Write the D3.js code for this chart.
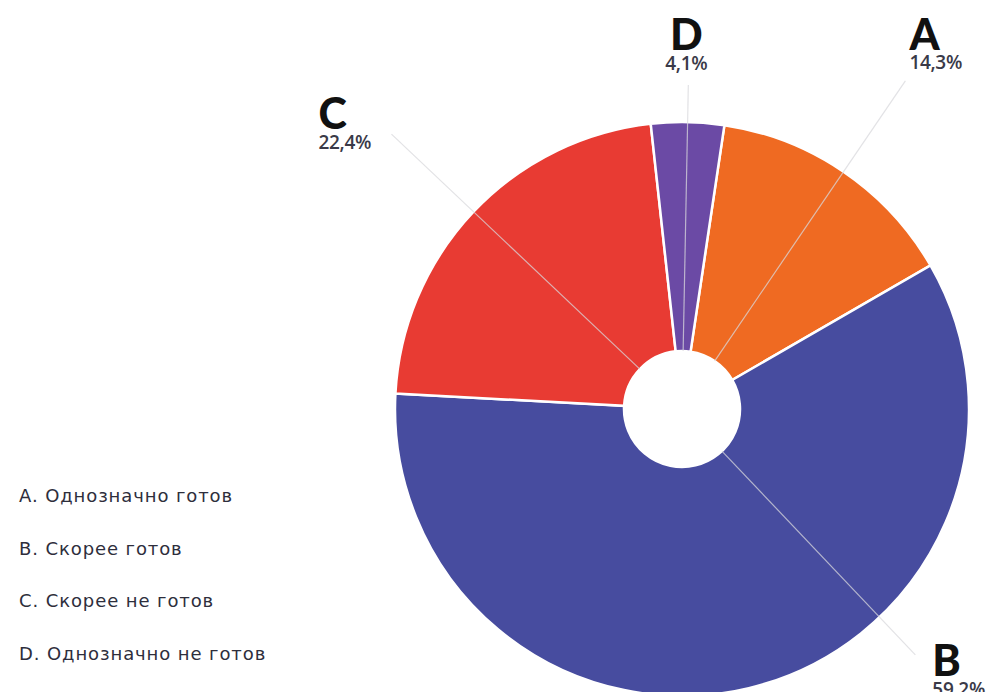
<!DOCTYPE html>
<meta charset="utf-8">
<script src="https://d3js.org/d3.v7.min.js"></script>
<style>
  body { margin: 0; background: #fff; }
</style>
<div id="chart"></div>
<script>
    // data
    const categories = ["A", "B", "C", "D"];
    const values = [14.3, 59.2, 22.4, 4.1];
    const valueLabels = ["14,3%", "59,2%", "22,4%", "4,1%"];
    const legendLabels = ["A. Однозначно готов", "B. Скорее готов", "C. Скорее не готов", "D. Однозначно не готов"];

    const width = 997, height = 692;
    const cx = 682, cy = 409;
    const outerR = 287, innerR = 58;

    const color = d3.scaleOrdinal()
        .domain(categories)
        .range(["#ef6a22", "#474c9f", "#e83b33", "#6b4aa5"]);

    const svg = d3.select("#chart")
        .append("svg")
        .attr("width", width)
        .attr("height", height);

    const g = svg.append("g")
        .attr("transform", `translate(${cx}, ${cy})`);

    const start = 8.5 * Math.PI / 180;
    const pie = d3.pie()
        .sort(null)
        .value(d => d.value)
        .startAngle(start)
        .endAngle(start + 2 * Math.PI);

    const data = categories.map((c, i) => ({ cat: c, value: values[i], label: valueLabels[i] }));
    const arcs = pie(data);

    const arc = d3.arc().innerRadius(innerR).outerRadius(outerR);

    g.selectAll("path.slice")
        .data(arcs)
        .join("path")
        .attr("class", "slice")
        .attr("d", arc)
        .attr("fill", d => color(d.data.cat))
        .attr("stroke", "#fff")
        .attr("stroke-width", 2.5);

    // label layout: radius of the line end, optional angle override (degrees), text offsets
    const labelLayout = {
        A: { r: 397, dx: 4, dy1: -31, dy2: -12, anchor: "start" },
        B: { r: 339, angle: 136.5, dx: 17, dy1: 21, dy2: 41, anchor: "start" },
        C: { r: 400, dx: -73, dy1: -5, dy2: 15, anchor: "start" },
        D: { r: 324, dx: -2, dy1: -35, dy2: -15, anchor: "middle" }
    };

    function endPoint(d) {
        const L = labelLayout[d.data.cat];
        const a = L.angle !== undefined ? L.angle * Math.PI / 180 : (d.startAngle + d.endAngle) / 2;
        return [Math.sin(a) * L.r, -Math.cos(a) * L.r, a];
    }

    g.selectAll("line.leader")
        .data(arcs)
        .join("line")
        .attr("class", "leader")
        .attr("x1", d => Math.sin(endPoint(d)[2]) * innerR)
        .attr("y1", d => -Math.cos(endPoint(d)[2]) * innerR)
        .attr("x2", d => endPoint(d)[0])
        .attr("y2", d => endPoint(d)[1])
        .attr("stroke", "#d8d8dc")
        .attr("stroke-opacity", 0.75)
        .attr("stroke-width", 1.2);

    const labels = g.selectAll("g.label")
        .data(arcs)
        .join("g")
        .attr("class", "label")
        .attr("transform", d => {
            const p = endPoint(d);
            const L = labelLayout[d.data.cat];
            return `translate(${p[0] + L.dx}, ${p[1]})`;
        })
        .attr("text-anchor", d => labelLayout[d.data.cat].anchor);

    labels.append("text")
        .attr("y", d => labelLayout[d.data.cat].dy1)
        .attr("font-family", "Lato, 'DejaVu Sans', sans-serif")
        .attr("font-weight", 900)
        .attr("font-size", 43)
        .attr("fill", "#111")
        .text(d => d.data.cat);

    labels.append("text")
        .attr("y", d => labelLayout[d.data.cat].dy2)
        .attr("font-family", "'Open Sans', sans-serif")
        .attr("font-weight", 600)
        .attr("font-size", 19)
        .attr("letter-spacing", -0.3)
        .attr("fill", "#3a3a48")
        .text(d => d.data.label);

    // white hole
    g.append("circle")
        .attr("r", innerR)
        .attr("fill", "#fff");

    // legend
    const legendY = d3.scalePoint()
        .domain(categories)
        .range([502, 660]);

    svg.selectAll("text.legend")
        .data(categories)
        .join("text")
        .attr("class", "legend")
        .attr("x", 19)
        .attr("y", d => legendY(d))
        .attr("font-family", "'DejaVu Sans', sans-serif")
        .attr("font-size", 18)
        .attr("letter-spacing", 0.9)
        .attr("fill", "#2e2e3c")
        .text((d, i) => legendLabels[i]);
</script>
